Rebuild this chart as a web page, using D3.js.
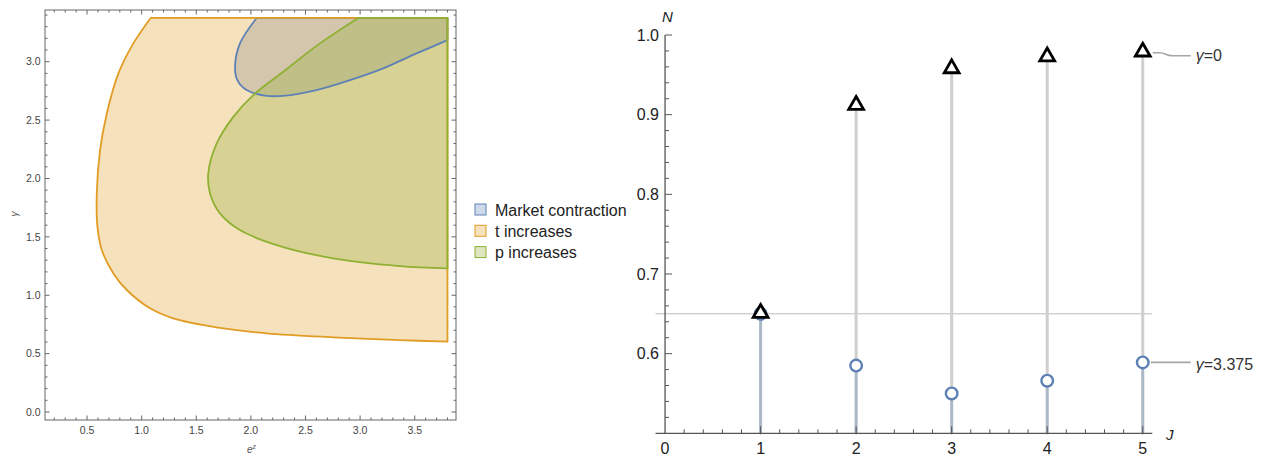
<!DOCTYPE html>
<html>
<head>
<meta charset="utf-8">
<script src="https://cdn.jsdelivr.net/npm/d3@7"></script>
<style>
  body { margin: 0; background: #fff; }
  svg { display: block; font-family: "Liberation Sans", Arial, sans-serif; }
</style>
</head>
<body>
<div id="chart"></div>
<script>
// ---- left panel: regions in the (e^z, gamma) plane ----
const regionNames = ['Market contraction', 't increases', 'p increases'];
const regionColors = ['#5e81b5', '#e19c24', '#8fb032'];
const ezMax = 3.8;
const gammaMax = 3.375;

// boundary curves, [e^z, gamma]
const contractionCurve = [
  [2.053, 3.375], [1.90, 3.157], [1.855, 2.957], [1.876, 2.842], [1.961, 2.757],
  [2.145, 2.708], [2.296, 2.708], [2.60, 2.757], [2.907, 2.842], [3.211, 2.943],
  [3.517, 3.071], [3.80, 3.185]
];
const tIncreasesCurve = [
  [1.083, 3.375], [0.924, 3.157], [0.787, 2.90], [0.681, 2.557], [0.619, 2.243],
  [0.589, 1.872], [0.595, 1.587], [0.635, 1.387], [0.741, 1.187], [0.864, 1.045],
  [1.077, 0.888], [1.29, 0.802], [1.687, 0.725], [2.145, 0.674], [2.754, 0.640],
  [3.364, 0.616], [3.80, 0.602]
];
const pIncreasesCurve = [
  [2.983, 3.375], [2.632, 3.157], [2.296, 2.914], [2.022, 2.714], [1.839, 2.528],
  [1.687, 2.30], [1.61, 2.044], [1.626, 1.872], [1.717, 1.701], [1.90, 1.558],
  [2.236, 1.43], [2.754, 1.316], [3.364, 1.25], [3.80, 1.230]
];
const regionCurves = [contractionCurve, tIncreasesCurve, pIncreasesCurve];
const leftXTicks = [0.5, 1.0, 1.5, 2.0, 2.5, 3.0, 3.5];
const leftYTicks = [0.0, 0.5, 1.0, 1.5, 2.0, 2.5, 3.0];

// ---- right panel: N against J ----
const jValues = [1, 2, 3, 4, 5];
const nGamma0 = [0.651, 0.912, 0.958, 0.973, 0.979];
const nGamma3375 = [0.650, 0.585, 0.550, 0.566, 0.589];
const refLevel = 0.65;
const rightXTicks = [0, 1, 2, 3, 4, 5];
const rightYTicks = [0.6, 0.7, 0.8, 0.9, 1.0];

const svg = d3.select('#chart').append('svg')
  .attr('width', 1268)
  .attr('height', 457);

// ===== left panel =====
const xL = d3.scaleLinear().domain([0.115, 3.878]).range([45, 456]);
const yL = d3.scaleLinear().domain([-0.0685, 3.443]).range([420, 10]);

const regionLine = d3.line()
  .x(d => xL(d[0]))
  .y(d => yL(d[1]))
  .curve(d3.curveCatmullRom);

const left = svg.append('g');

// each region: curve then close along the plot range edges (x = ezMax, gamma = gammaMax)
const regionPaths = regionCurves.map(curve => {
  const first = curve[0];
  return regionLine(curve)
    + 'L' + xL(ezMax) + ',' + yL(gammaMax)
    + 'L' + xL(first[0]) + ',' + yL(first[1]) + 'Z';
});

// fills first, boundaries on top
regionPaths.forEach((d, i) => {
  left.append('path')
    .attr('d', d)
    .attr('fill', regionColors[i])
    .attr('fill-opacity', 0.3)
    .attr('stroke', 'none');
});
regionPaths.forEach((d, i) => {
  left.append('path')
    .attr('d', d)
    .attr('fill', 'none')
    .attr('stroke', regionColors[i])
    .attr('stroke-width', 1.8)
    .attr('stroke-linejoin', 'round');
});

// frame
left.append('rect')
  .attr('x', 45).attr('y', 10)
  .attr('width', 411).attr('height', 410)
  .attr('fill', 'none')
  .attr('stroke', '#666')
  .attr('stroke-width', 1);

// frame ticks (all four sides, inward)
const frameTicks = left.append('g').attr('stroke', '#666').attr('stroke-width', 1);
d3.range(2, 39).map(v => v / 10).forEach(v => {
  const major = Math.abs(v * 2 - Math.round(v * 2)) < 1e-6;
  const len = major ? 4.5 : 2.5;
  const px = xL(v);
  frameTicks.append('line').attr('x1', px).attr('x2', px).attr('y1', 420).attr('y2', 420 - len);
  frameTicks.append('line').attr('x1', px).attr('x2', px).attr('y1', 10).attr('y2', 10 + len);
});
d3.range(0, 35).map(v => v / 10).forEach(v => {
  const major = Math.abs(v * 2 - Math.round(v * 2)) < 1e-6;
  const len = major ? 4.5 : 2.5;
  const py = yL(v);
  frameTicks.append('line').attr('x1', 45).attr('x2', 45 + len).attr('y1', py).attr('y2', py);
  frameTicks.append('line').attr('x1', 456).attr('x2', 456 - len).attr('y1', py).attr('y2', py);
});

left.selectAll('.xl-label')
  .data(leftXTicks)
  .enter()
  .append('text')
  .attr('x', d => xL(d))
  .attr('y', 434)
  .attr('text-anchor', 'middle')
  .attr('font-size', 10.5)
  .attr('fill', '#444')
  .text(d => d.toFixed(1));

left.selectAll('.yl-label')
  .data(leftYTicks)
  .enter()
  .append('text')
  .attr('x', 40.5)
  .attr('y', d => yL(d) + 3.7)
  .attr('text-anchor', 'end')
  .attr('font-size', 10.5)
  .attr('fill', '#444')
  .text(d => d.toFixed(1));

// axis labels
const ezLabel = left.append('text')
  .attr('x', 247)
  .attr('y', 453)
  .attr('font-size', 10)
  .attr('font-style', 'italic')
  .attr('fill', '#555');
ezLabel.append('tspan').text('e');
ezLabel.append('tspan').attr('dy', -4).attr('font-size', 7).text('z');

left.append('text')
  .attr('transform', 'translate(18,214) rotate(-90)')
  .attr('text-anchor', 'middle')
  .attr('font-size', 10)
  .attr('font-style', 'italic')
  .attr('fill', '#555')
  .text('γ');

// legend
const legend = left.append('g').attr('transform', 'translate(475, 204)');
const legendItems = legend.selectAll('.legend-item')
  .data(regionNames)
  .enter()
  .append('g')
  .attr('transform', (d, i) => `translate(0, ${i * 21.3})`);

legendItems.append('rect')
  .attr('width', 11)
  .attr('height', 11)
  .attr('fill', (d, i) => regionColors[i])
  .attr('fill-opacity', 0.3)
  .attr('stroke', (d, i) => regionColors[i])
  .attr('stroke-width', 1);

legendItems.append('text')
  .attr('x', 20)
  .attr('y', 11.5)
  .attr('font-size', 16)
  .attr('fill', '#222')
  .text(d => d);

// ===== right panel =====
const xR = d3.scaleLinear().domain([-0.1, 5.1]).range([655.5, 1152.3]);
const yR = d3.scaleLinear().domain([0.5, 1.0]).range([433.3, 35]);

const right = svg.append('g');

// reference level
right.append('line')
  .attr('x1', xR(-0.1)).attr('x2', xR(5.1))
  .attr('y1', yR(refLevel)).attr('y2', yR(refLevel))
  .attr('stroke', '#bbb')
  .attr('stroke-width', 1);

// stems down to the axis
right.selectAll('.stem0')
  .data(jValues)
  .enter()
  .append('line')
  .attr('x1', d => xR(d)).attr('x2', d => xR(d))
  .attr('y1', yR(0.5))
  .attr('y2', (d, i) => yR(nGamma0[i]))
  .attr('stroke', '#cfcfcf')
  .attr('stroke-width', 3);

right.selectAll('.stem1')
  .data(jValues)
  .enter()
  .append('line')
  .attr('x1', d => xR(d)).attr('x2', d => xR(d))
  .attr('y1', yR(0.5))
  .attr('y2', (d, i) => yR(nGamma3375[i]))
  .attr('stroke', '#5e81b5')
  .attr('stroke-opacity', 0.3)
  .attr('stroke-width', 3);

// axes
const axes = right.append('g').attr('stroke', '#555').attr('stroke-width', 1.3);
axes.append('line')
  .attr('x1', xR(-0.1)).attr('x2', xR(5.1))
  .attr('y1', yR(0.5)).attr('y2', yR(0.5));
axes.append('line')
  .attr('x1', xR(0)).attr('x2', xR(0))
  .attr('y1', yR(0.5)).attr('y2', yR(1.0));

d3.range(1, 26).map(v => v / 5).forEach(v => {
  const major = Math.abs(v - Math.round(v)) < 1e-6;
  axes.append('line')
    .attr('x1', xR(v)).attr('x2', xR(v))
    .attr('y1', yR(0.5) + (major ? 1 : 0))
    .attr('y2', yR(0.5) - (major ? 7 : 4))
    .attr('stroke-width', 1);
});
d3.range(26, 51).map(v => v / 50).forEach(v => {
  const major = Math.abs(v * 10 - Math.round(v * 10)) < 1e-6;
  axes.append('line')
    .attr('x1', xR(0)).attr('x2', xR(0) + (major ? 7 : 4))
    .attr('y1', yR(v)).attr('y2', yR(v))
    .attr('stroke-width', 1);
});

right.selectAll('.xr-label')
  .data(rightXTicks)
  .enter()
  .append('text')
  .attr('x', d => xR(d))
  .attr('y', 454)
  .attr('text-anchor', 'middle')
  .attr('font-size', 16)
  .attr('fill', '#222')
  .text(d => d);

right.selectAll('.yr-label')
  .data(rightYTicks)
  .enter()
  .append('text')
  .attr('x', 659)
  .attr('y', d => yR(d) + 5.7)
  .attr('text-anchor', 'end')
  .attr('font-size', 16)
  .attr('fill', '#222')
  .text(d => d.toFixed(1));

right.append('text')
  .attr('x', 662).attr('y', 22)
  .attr('font-size', 15)
  .attr('font-style', 'italic')
  .attr('fill', '#222')
  .text('N');

right.append('text')
  .attr('x', 1166).attr('y', 440)
  .attr('font-size', 15)
  .attr('font-style', 'italic')
  .attr('fill', '#222')
  .text('J');

// circle markers (gamma = 3.375)
right.selectAll('.circ')
  .data(jValues)
  .enter()
  .append('circle')
  .attr('cx', d => xR(d))
  .attr('cy', (d, i) => yR(nGamma3375[i]))
  .attr('r', 5.8)
  .attr('fill', '#fff')
  .attr('stroke', '#5e81b5')
  .attr('stroke-width', 2.4);

// triangle markers (gamma = 0)
const tri = d3.symbol().type(d3.symbolTriangle).size(95);
right.selectAll('.tri')
  .data(jValues)
  .enter()
  .append('path')
  .attr('d', tri)
  .attr('transform', (d, i) => `translate(${xR(d)},${yR(nGamma0[i])})`)
  .attr('fill', '#fff')
  .attr('stroke', '#000')
  .attr('stroke-width', 2.8)
  .attr('stroke-linejoin', 'miter');

// callout labels at J = 5
const last = jValues.length - 1;
const y0 = yR(nGamma0[last]);
const y1 = yR(nGamma3375[last]);
const xs = xR(jValues[last]);
right.append('path')
  .attr('d', `M${xs + 10},${y0 + 1} L${xs + 16},${y0 + 1} C${xs + 24},${y0 + 1} ${xs + 22},${y0 + 4} ${xs + 30},${y0 + 4} L${xs + 48},${y0 + 4}`)
  .attr('fill', 'none')
  .attr('stroke', '#a6a6a6')
  .attr('stroke-width', 1.6);
right.append('line')
  .attr('x1', xs + 8).attr('x2', xs + 48)
  .attr('y1', y1).attr('y2', y1)
  .attr('stroke', '#a6a6a6')
  .attr('stroke-width', 1.6);

const lab0 = right.append('text')
  .attr('x', xs + 53).attr('y', y0 + 9)
  .attr('font-size', 16)
  .attr('fill', '#333');
lab0.append('tspan').attr('font-style', 'italic').text('γ');
lab0.append('tspan').text('=0');

const lab1 = right.append('text')
  .attr('x', xs + 53).attr('y', y1 + 8)
  .attr('font-size', 16)
  .attr('fill', '#333');
lab1.append('tspan').attr('font-style', 'italic').text('γ');
lab1.append('tspan').text('=3.375');
</script>
</body>
</html>
